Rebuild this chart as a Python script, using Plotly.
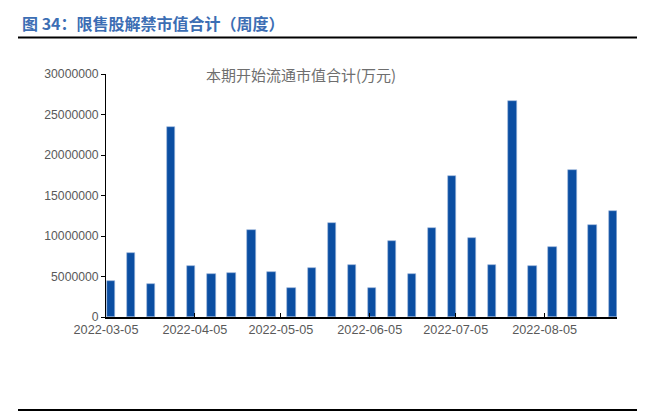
import plotly.graph_objects as go
import pandas as pd

start_date = "2022-03-06"
n_weeks = 26
dates = pd.date_range(start_date, periods=n_weeks, freq="7D")
values = [4450000, 7960000, 4120000, 23500000, 6310000, 5270000, 5450000, 10700000,
          5600000, 3590000, 6100000, 11550000, 6430000, 3540000, 9440000, 5320000,
          11050000, 17450000, 9730000, 6390000, 26700000, 6350000, 8660000, 18140000,
          11300000, 13030000]
tick_dates = ["2022-03-05", "2022-04-05", "2022-05-05", "2022-06-05", "2022-07-05", "2022-08-05"]
y_ticks = [0, 5000000, 10000000, 15000000, 20000000, 25000000, 30000000]
series_name = "本期开始流通市值合计(万元)"
title_text = "<b>图 34：限售股解禁市值合计（周度）</b>"

DAY = 86400000
bar_w = 2.9 * DAY

fig = go.Figure()
fig.add_trace(go.Bar(
    x=dates, y=values, name=series_name,
    marker=dict(color="#0B4EA2", line=dict(color="#9DB7DC", width=0.6)),
    width=bar_w, offset=-bar_w / 2 + 0.75 * DAY,
    showlegend=False,
))

fig.update_layout(
    width=661, height=416,
    margin=dict(l=106, r=44, t=74, b=99),
    paper_bgcolor="white", plot_bgcolor="white",
    font=dict(family="Liberation Sans, Arial, sans-serif", color="#595959", size=12),
    bargap=0,
)
fig.update_xaxes(
    type="date",
    range=["2022-03-05", "2022-08-30 06:00"],
    tickvals=tick_dates, ticktext=tick_dates,
    ticks="inside", ticklen=4, tickcolor="black", tickwidth=1,
    showline=True, linecolor="black", linewidth=1.5,
    showgrid=False, zeroline=False,
    tickfont=dict(size=12.7, color="#595959"),
)
fig.update_yaxes(
    range=[0, 30000000],
    tickvals=y_ticks, ticktext=[str(v) for v in y_ticks],
    ticks="outside", ticklen=4, tickcolor="black",
    showline=True, linecolor="black", linewidth=1,
    showgrid=False, zeroline=False,
    tickfont=dict(size=12.2, color="#595959"),
)

fig.add_annotation(
    text=series_name, xref="paper", yref="paper", x=(301 - 106) / 511, y=1.0,
    xanchor="center", yanchor="middle", showarrow=False,
    font=dict(family="Noto Sans CJK SC", size=15, color="#6E6E6E"),
)
fig.add_annotation(
    text=title_text, xref="paper", yref="paper",
    x=(20 - 106) / 511, y=1 + (74 - 23) / 243, xanchor="left", yanchor="middle",
    showarrow=False,
    font=dict(family="Noto Sans CJK SC", size=16, color="#3C6EB4"),
)
fig.add_shape(type="line", xref="paper", yref="paper",
              x0=(18 - 106) / 511, x1=(637 - 106) / 511,
              y0=1 + (74 - 37.5) / 243, y1=1 + (74 - 37.5) / 243,
              line=dict(color="black", width=2))
fig.add_shape(type="line", xref="paper", yref="paper",
              x0=(18 - 106) / 511, x1=(637 - 106) / 511,
              y0=-(410 - 317) / 243, y1=-(410 - 317) / 243,
              line=dict(color="black", width=2))

fig.write_html("out.html", config={"displayModeBar": False},
               post_script="document.body.style.margin='0px';")
